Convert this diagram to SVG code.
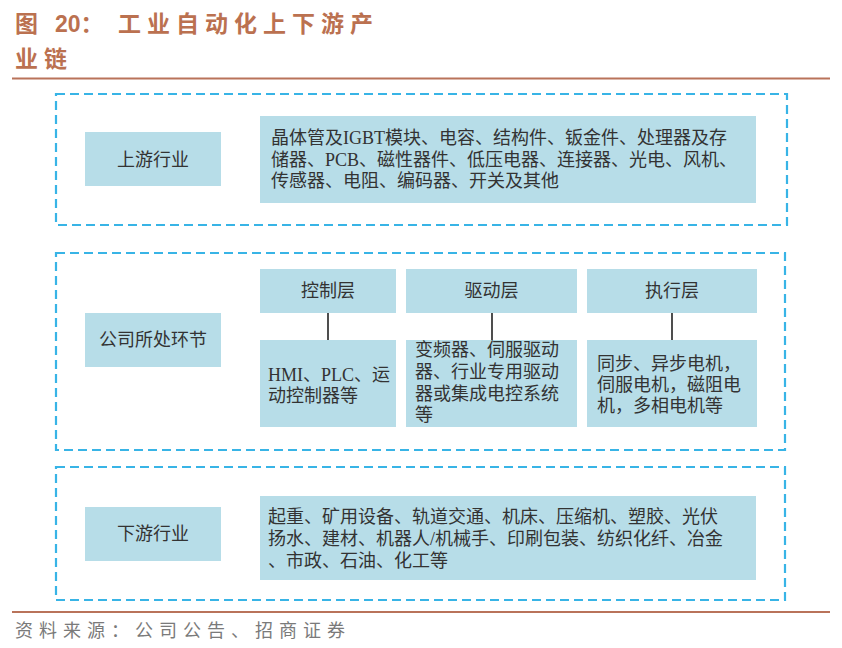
<svg xmlns="http://www.w3.org/2000/svg" width="842" height="648" viewBox="0 0 842 648">
<style>
.title{font-family:"Liberation Sans","Noto Sans CJK SC",sans-serif;font-weight:bold;font-size:23px;fill:#BB7150}
.rule{stroke:#B9735A;stroke-width:2.2}
.dash{fill:none;stroke:#38B4E6;stroke-width:2.2;stroke-dasharray:9 5}
.box{fill:#B7DDE8}
.t{font-family:"Liberation Serif","Noto Sans CJK SC",serif;font-size:18px;fill:#333333}
.c{text-anchor:middle}
.link{stroke:#222222;stroke-width:1.6}
.foot{font-family:"Liberation Serif","Noto Sans CJK SC",serif;font-size:18px;fill:#7a7a7a;letter-spacing:6px}
</style>
<rect width="842" height="648" fill="#ffffff"/>
<g id="title">
<text class="title" x="15" y="32">图</text>
<text class="title" x="55" y="32">20：</text>
<text class="title" x="118" y="32" style="letter-spacing:6px">工业自动化上下游产</text>
<text class="title" x="15" y="67" style="letter-spacing:6px">业链</text>
<line class="rule" x1="12" y1="78.5" x2="830" y2="78.5"/>
</g>
<g id="frames">
<rect class="dash" x="56" y="94" width="731" height="131"/>
<rect class="dash" x="56" y="253" width="729" height="197"/>
<rect class="dash" x="56" y="467" width="729" height="133"/>
</g>
<g id="upstream">
<rect class="box" x="85" y="132" width="136" height="54"/>
<text class="t c" x="153" y="166">上游行业</text>
</g>
<g id="upstream-items">
<rect class="box" x="260" y="116" width="496" height="87"/>
<text class="t" x="271" y="144">晶体管及IGBT模块、电容、结构件、钣金件、处理器及存</text>
<text class="t" x="271" y="165.5">储器、PCB、磁性器件、低压电器、连接器、光电、风机、</text>
<text class="t" x="271" y="187">传感器、电阻、编码器、开关及其他</text>
</g>
<g id="company">
<rect class="box" x="85" y="313" width="136" height="54"/>
<text class="t c" x="153" y="346">公司所处环节</text>
</g>
<g id="control">
<rect class="box" x="260" y="269" width="136" height="44"/>
<text class="t c" x="328" y="297">控制层</text>
</g>
<g id="drive">
<rect class="box" x="406" y="269" width="171" height="44"/>
<text class="t c" x="491.5" y="297">驱动层</text>
</g>
<g id="actuator">
<rect class="box" x="587" y="269" width="170" height="44"/>
<text class="t c" x="672" y="297">执行层</text>
</g>
<g id="control-items">
<rect class="box" x="260" y="340" width="136" height="87"/>
<text class="t" x="268" y="381">HMI、PLC、运</text>
<text class="t" x="268" y="402">动控制器等</text>
</g>
<g id="drive-items">
<rect class="box" x="406" y="340" width="171" height="87"/>
<text class="t" x="415" y="356">变频器、伺服驱动</text>
<text class="t" x="415" y="378">器、行业专用驱动</text>
<text class="t" x="415" y="400">器或集成电控系统</text>
<text class="t" x="415" y="421">等</text>
</g>
<g id="actuator-items">
<rect class="box" x="587" y="340" width="170" height="87"/>
<text class="t" x="597" y="370">同步、异步电机，</text>
<text class="t" x="597" y="391">伺服电机，磁阻电</text>
<text class="t" x="597" y="412">机，多相电机等</text>
</g>
<g id="connectors">
<line class="link" x1="328" y1="313" x2="328" y2="340"/>
<line class="link" x1="492" y1="313" x2="492" y2="340"/>
<line class="link" x1="672" y1="313" x2="672" y2="340"/>
</g>
<g id="downstream">
<rect class="box" x="85" y="507" width="136" height="54"/>
<text class="t c" x="153" y="540">下游行业</text>
</g>
<g id="downstream-items">
<rect class="box" x="260" y="496" width="496" height="84"/>
<text class="t" x="268" y="523">起重、矿用设备、轨道交通、机床、压缩机、塑胶、光伏</text>
<text class="t" x="268" y="545">扬水、建材、机器人/机械手、印刷包装、纺织化纤、冶金</text>
<text class="t" x="268" y="567">、市政、石油、化工等</text>
</g>
<g id="footer">
<line class="rule" x1="12" y1="612" x2="830" y2="612"/>
<text class="foot" x="15" y="637">资料来源：公司公告、招商证券</text>
</g>
</svg>
